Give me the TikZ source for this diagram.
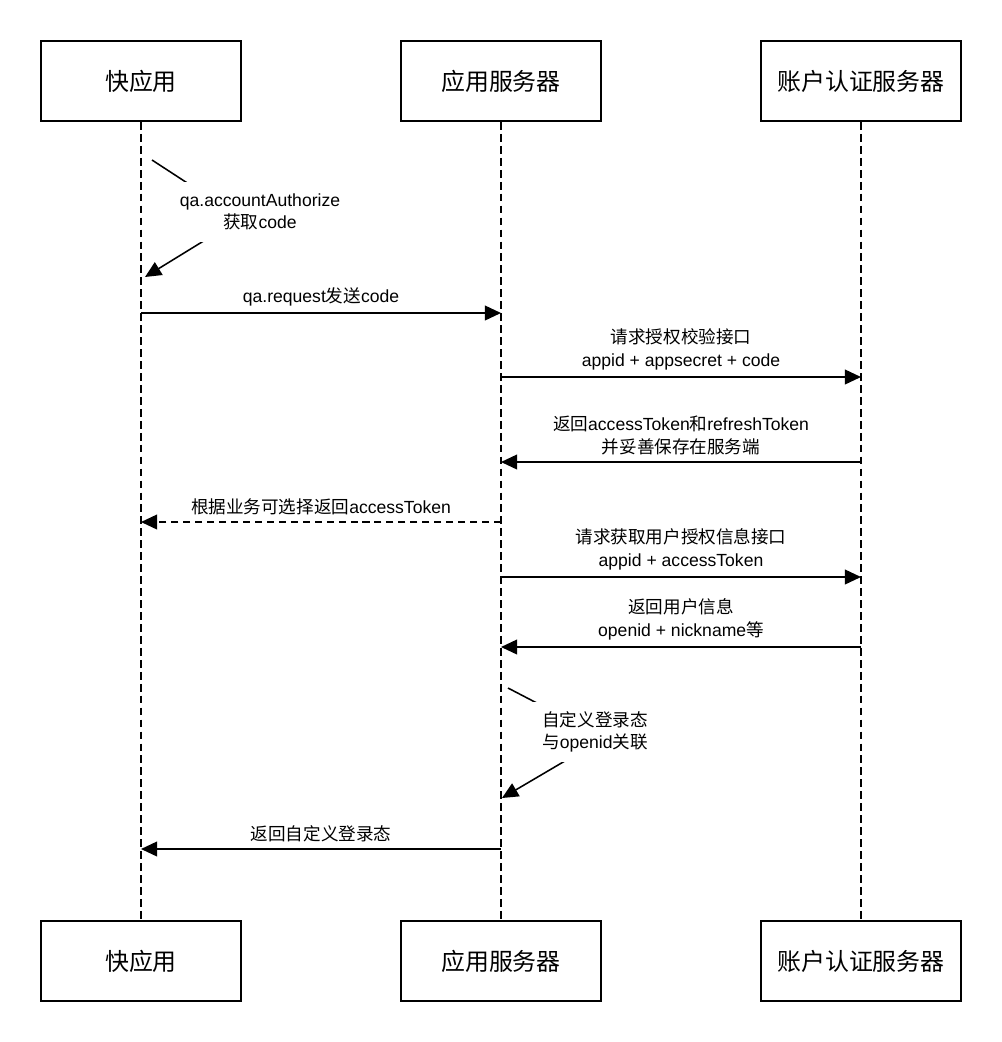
\documentclass[tikz,border=0pt]{standalone}
\usepackage{fontspec}
\setmainfont{Liberation Sans}
\newfontfamily\cjk{Noto Sans CJK SC}
\usetikzlibrary{arrows.meta}

\tikzset{
  actor/.style={draw,line width=1.4pt,minimum width=5cm,minimum height=2cm,
    font=\fontsize{17}{20}\selectfont},
  life/.style={line width=1.4pt,dash pattern=on 5.5pt off 3pt},
  msg/.style={line width=1.3pt,-{Triangle[length=11.5pt,width=10.5pt]}},
  reply/.style={msg,dash pattern=on 5pt off 3.5pt},
  lbl/.style={midway,above=4.5pt,inner sep=0pt,align=center,
    font=\fontsize{12.5}{16}\selectfont},
  selflbl/.style={fill=white,align=center,inner xsep=0.45cm,inner ysep=0pt,
    minimum height=1.5cm,font=\fontsize{12.5}{15.5}\selectfont}
}

\begin{document}
\begin{tikzpicture}[x=0.025cm,y=-0.025cm]
\useasboundingbox (0,0) rectangle (1002,1042);

% participants
\node[actor] (qaTop) at (141,81) {{\cjk 快应用}};
\node[actor] (srvTop) at (501,81) {{\cjk 应用服务器}};
\node[actor] (authTop) at (861,81) {{\cjk 账户认证服务器}};

\node[actor] (qaBot) at (141,961) {{\cjk 快应用}};
\node[actor] (srvBot) at (501,961) {{\cjk 应用服务器}};
\node[actor] (authBot) at (861,961) {{\cjk 账户认证服务器}};

\draw[life] (qaTop) -- (qaBot);
\draw[life] (srvTop) -- (srvBot);
\draw[life] (authTop) -- (authBot);

% message rows on the lifelines
\foreach \y [count=\i] in {313,377,462,522,577,647,849}{
  \coordinate (qa\i) at (qaTop |- 0,\y);
  \coordinate (srv\i) at (srvTop |- 0,\y);
  \coordinate (auth\i) at (authTop |- 0,\y);
}

% self call on the quick app
\coordinate (s1a) at (152,160);
\coordinate (s1m) at (241,218);
\coordinate (s1b) at (145,277);
\draw[msg,line width=1.1pt] (s1a) -- (s1m) -- (s1b);
\node[selflbl] (authorize) at (260,212) {qa.accountAuthorize\\{\cjk 获取}code};

\draw[msg] (qa1) -- (srv1) node[lbl] {qa.request{\cjk 发送}code};
\draw[msg] (srv2) -- (auth2) node[lbl] {{\cjk 请求授权校验接口}\\appid + appsecret + code};
\draw[msg] (auth3) -- (srv3) node[lbl] {{\cjk 返回}accessToken{\cjk 和}refreshToken\\{\cjk 并妥善保存在服务端}};
\draw[reply] (srv4) -- (qa4) node[lbl] {{\cjk 根据业务可选择返回}accessToken};
\draw[msg] (srv5) -- (auth5) node[lbl] {{\cjk 请求获取用户授权信息接口}\\appid + accessToken};
\draw[msg] (auth6) -- (srv6) node[lbl] {{\cjk 返回用户信息}\\openid + nickname{\cjk 等}};

% self call on the app server
\coordinate (s2a) at (508,688);
\coordinate (s2m) at (604,738);
\coordinate (s2b) at (502,798);
\draw[msg,line width=1.1pt] (s2a) -- (s2m) -- (s2b);
\node[selflbl] (session) at (595,732) {{\cjk 自定义登录态}\\{\cjk 与}openid{\cjk 关联}};

\draw[msg] (srv7) -- (qa7) node[lbl] {{\cjk 返回自定义登录态}};
\end{tikzpicture}
\end{document}
